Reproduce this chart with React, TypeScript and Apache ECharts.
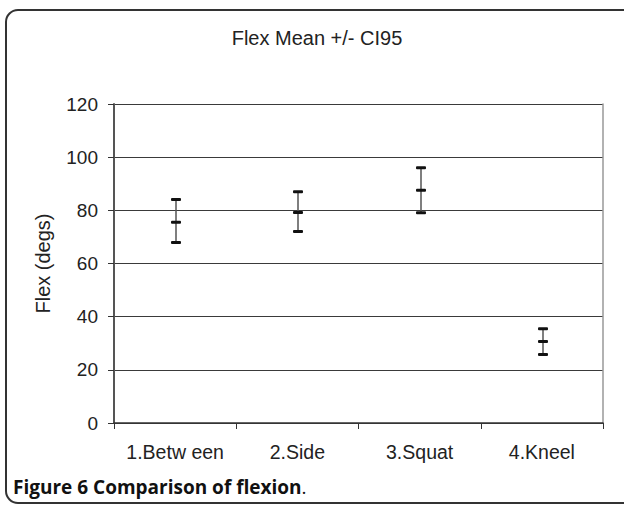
import React, { useEffect, useRef } from "react";
import * as echarts from "echarts";

const categories = ["1.Betw een", "2.Side", "3.Squat", "4.Kneel"];
const means = [75.5, 79.2, 87.6, 30.7];
const upper = [84.1, 87.0, 96.0, 35.5];
const lower = [67.9, 72.0, 79.1, 25.8];
const yTicks = { min: 0, max: 120, interval: 20 };

const FONT = "'Liberation Sans', Arial, sans-serif";

export default function App() {
  const ref = useRef<HTMLDivElement>(null);
  useEffect(() => {
    document.body.style.margin = "0";
    if (!ref.current) return;
    const chart = echarts.init(ref.current, undefined, { renderer: "svg" });
    const data = categories.map((_, i) => [i, lower[i], means[i], upper[i]]);
    chart.setOption({
      animation: false,
      backgroundColor: "#fff",
      title: {
        text: "Flex Mean +/- CI95",
        left: 312,
        textAlign: "center",
        top: 23,
        textStyle: { fontFamily: FONT, fontSize: 20, fontWeight: "normal", color: "#222" },
      },
      grid: { left: 114, right: 21, top: 104, bottom: 82 },
      xAxis: {
        type: "category",
        data: categories,
        boundaryGap: true,
        axisLine: { lineStyle: { color: "#333", width: 1.5 } },
        axisTick: { show: true, interval: 0, length: 6, inside: false, lineStyle: { color: "#333", width: 1 } },
        axisLabel: { interval: 0, hideOverlap: false, fontFamily: FONT, fontSize: 19.5, color: "#222", margin: 19 },
        splitLine: { show: false },
      },
      yAxis: [
        {
          type: "value",
          min: yTicks.min,
          max: yTicks.max,
          interval: yTicks.interval,
          name: "Flex (degs)",
          nameLocation: "middle",
          nameGap: 61,
          nameRotate: 90,
          nameTextStyle: { fontFamily: FONT, fontSize: 20, color: "#222" },
          axisLine: { show: true, lineStyle: { color: "#555", width: 2 } },
          axisTick: { show: true, length: 6, lineStyle: { color: "#333", width: 1 } },
          axisLabel: { fontFamily: FONT, fontSize: 19, color: "#222", margin: 16 },
          splitLine: { show: true, lineStyle: { color: "#3a3a3a", width: 1 } },
        },
        {
          type: "value",
          position: "right",
          min: yTicks.min,
          max: yTicks.max,
          interval: yTicks.interval,
          axisLine: { show: true, lineStyle: { color: "#999", width: 1.5 } },
          axisTick: { show: false },
          axisLabel: { show: false },
          splitLine: { show: false },
        },
      ],
      series: [
        {
          type: "custom",
          data,
          encode: { x: 0, y: [1, 2, 3] },
          renderItem: (params: any, api: any) => {
            const x = api.value(0);
            const lo = api.coord([x, api.value(1)]);
            const mid = api.coord([x, api.value(2)]);
            const hi = api.coord([x, api.value(3)]);
            const cx = Math.round(lo[0]) + 1;
            const hw = 5;
            const cap = (y: number) => ({
              type: "rect",
              shape: { x: cx - hw, y: y - 1.5, width: hw * 2, height: 3, r: 1 },
              style: { fill: "#111" },
            });
            return {
              type: "group",
              children: [
                {
                  type: "line",
                  shape: { x1: cx, y1: lo[1], x2: cx, y2: hi[1] },
                  style: { stroke: "#555", lineWidth: 1.5 },
                },
                cap(lo[1]),
                cap(mid[1]),
                cap(hi[1]),
              ],
            };
          },
        },
      ],
      graphic: [
        {
          type: "rect",
          shape: { x: 6, y: 10, width: 640, height: 493, r: 12 },
          style: { fill: "none", stroke: "#333", lineWidth: 2 },
          silent: true,
        },
        {
          type: "text",
          x: 13,
          y: 487,
          style: {
            text: "{b|Figure 6 Comparison of flexion}{r|.}",
            verticalAlign: "middle",
            rich: {
              b: { fontFamily: "'Open Sans', sans-serif", fontWeight: "bold", fontSize: 19, fill: "#111" },
              r: { fontFamily: "'Open Sans', sans-serif", fontWeight: "normal", fontSize: 19, fill: "#111" },
            },
          },
        },
      ],
    });
    return () => chart.dispose();
  }, []);
  return <div ref={ref} style={{ width: 624, height: 505 }} />;
}
